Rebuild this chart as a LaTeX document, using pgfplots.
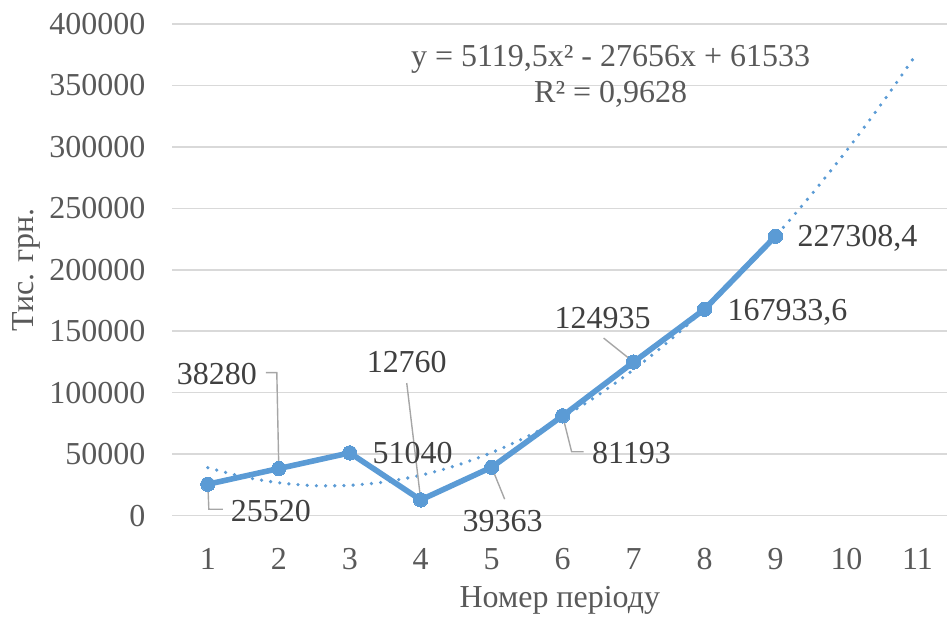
\documentclass[border=0pt]{standalone}
\usepackage{fontspec}
\setmainfont{Liberation Serif}
\usepackage{pgfplots}
\pgfplotsset{compat=1.18}
\usepackage{pgfplotstable}

\definecolor{serblue}{HTML}{5B9BD5}
\definecolor{gridgray}{HTML}{D9D9D9}
\definecolor{ticktext}{HTML}{595959}
\definecolor{labtext}{HTML}{404040}
\definecolor{leader}{HTML}{A6A6A6}

\pgfplotstableread{
x y
1 25520
2 38280
3 51040
4 12760
5 39363
6 81193
7 124935
8 167933.6
9 227308.4
}\revenue

% values of the quadratic trendline shown on the chart
\pgfplotstableread{
x y
1 38996.5
1.5 31567.9
2 26699
2.5 24389.9
3 24640.5
3.5 27450.9
4 32821
4.5 40750.9
5 51240.5
5.5 64289.9
6 79899
6.5 98067.9
7 118796.5
7.5 142084.9
8 167933
8.5 196340.9
9 227308.5
9.5 260835.9
10 296923
10.5 335569.9
11 376776.5
}\trend

\begin{document}
\begin{tikzpicture}
\fontsize{16}{19}\selectfont
\begin{axis}[
    scale only axis,
    width=387.75pt, height=246pt,
    xmin=0.5, xmax=11.42,
    ymin=0, ymax=400000,
    xtick={1,...,11},
    ytick={0,50000,...,400000},
    scaled y ticks=false,
    /pgf/number format/.cd, fixed, 1000 sep={}, assume math mode=true,
    /pgfplots/.cd,
    axis line style={draw=none},
    major tick length=0pt,
    ymajorgrids,
    grid style={gridgray, line width=0.75pt},
    tick label style={font=\fontsize{16}{19}\selectfont, text=ticktext},
    xticklabel style={yshift=-11pt},
    yticklabel style={xshift=-8pt},
    xlabel={Номер періоду},
    xlabel style={font=\fontsize{16}{19}\selectfont, text=ticktext,
        at={(axis description cs:0.5,0)}, anchor=base, yshift=-46pt},
    ylabel={Тис. грн.},
    ylabel style={font=\fontsize{16}{19}\selectfont, text=ticktext,
        at={(axis description cs:0,0.5)}, anchor=center, yshift=73pt},
    clip=false,
]
\addplot[serblue, line width=1.8pt, dash pattern=on 0pt off 4.6pt, line cap=round, smooth]
    table[x=x, y=y] {\trend};
\addplot[serblue, line width=2.8pt, line join=round, mark=*, mark size=3.6pt,
    mark options={fill=serblue, draw=serblue, line width=0pt}]
    table[x=x, y=y] {\revenue};

% leader lines
\begin{scope}[leader, line width=0.7pt]
\draw (axis cs:1,25520) -- ++(0.5pt,-12.5pt) -- ++(7pt,0pt);
\draw (axis cs:2,38280) -- ++(-1pt,48pt) -- ++(-5.5pt,0pt);
\draw (axis cs:4,12760) -- ++(-7pt,58.5pt);
\draw (axis cs:5,39363) -- ++(6.5pt,-16pt);
\draw (axis cs:6,81193) -- ++(4.5pt,-18pt) -- ++(6pt,0pt);
\draw (axis cs:7,124935) -- ++(-15pt,12pt);
\end{scope}

% data labels
\begin{scope}[every node/.style={text=labtext, font=\fontsize{16}{19}\selectfont, inner sep=0pt, anchor=center}]
\node at ([xshift=31.5pt, yshift=-13.5pt]axis cs:1,25520) {25520};
\node at ([xshift=-31pt, yshift=47.5pt]axis cs:2,38280) {38280};
\node at ([xshift=31.5pt, yshift=0pt]axis cs:3,51040) {51040};
\node at ([xshift=-7pt, yshift=69pt]axis cs:4,12760) {12760};
\node at ([xshift=5.5pt, yshift=-27pt]axis cs:5,39363) {39363};
\node at ([xshift=34.5pt, yshift=-18.5pt]axis cs:6,81193) {81193};
\node at ([xshift=-15.5pt, yshift=22pt]axis cs:7,124935) {124935};
\node at ([xshift=41.5pt, yshift=-1.5pt]axis cs:8,167933.6) {167933,6};
\node at ([xshift=41pt, yshift=-1pt]axis cs:9,227308.4) {227308,4};
\end{scope}

% trendline equation
\node[text=ticktext, anchor=base, inner sep=0pt, font=\fontsize{16}{19}\selectfont]
    at (axis cs:6.676,365041) {y = 5119,5x² - 27656x + 61533};
\node[text=ticktext, anchor=base, inner sep=0pt, font=\fontsize{16}{19}\selectfont]
    at (axis cs:6.676,335772) {R² = 0,9628};
\end{axis}
\path[use as bounding box] (current axis.south west) ++(-86.25pt,-49pt) rectangle ++(474pt,307pt);
\end{tikzpicture}
\end{document}
